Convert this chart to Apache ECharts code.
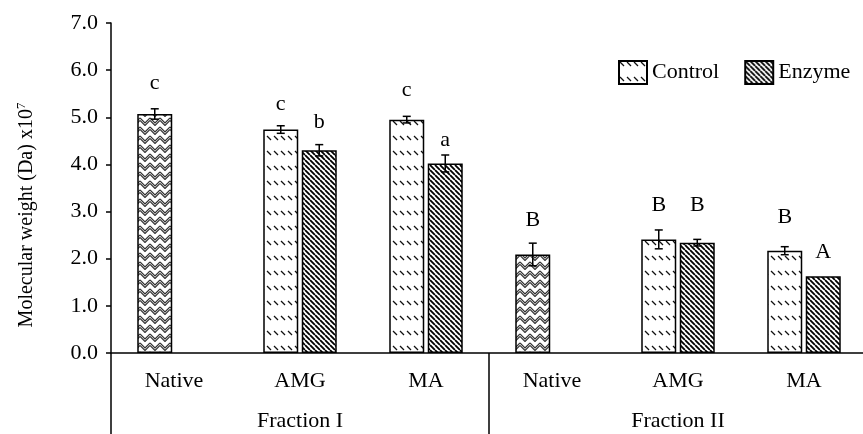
<!DOCTYPE html>
<html>
<head>
<meta charset="utf-8">
<script src="https://cdn.jsdelivr.net/npm/echarts@6/dist/echarts.min.js"></script>
<style>
html,body{margin:0;padding:0;background:#fff;}
#chart{width:863px;height:434px;}
</style>
</head>
<body>
<div id="chart"></div>
<script>
// ---------- data ----------
const categories = ['Native', 'AMG', 'MA', 'Native', 'AMG', 'MA'];
const groups = ['Fraction I', 'Fraction II'];
const seriesNames = ['Control', 'Enzyme'];
const controlMW = [5.07, 4.74, 4.95, 2.09, 2.41, 2.17];
const controlErr = [0.11, 0.08, 0.07, 0.24, 0.20, 0.085];
const enzymeMW = [null, 4.30, 4.02, null, 2.34, 1.63];
const enzymeErr = [null, 0.12, 0.18, null, 0.07, 0];
const controlLetters = ['c', 'c', 'c', 'B', 'B', 'B'];
const enzymeLetters = [null, 'b', 'a', null, 'B', 'A'];
const controlLetterAt = [5.73, 5.28, 5.58, 2.82, 3.14, 2.89];
const enzymeLetterAt = [null, 4.90, 4.51, null, 3.14, 2.13];
const yMin = 0, yMax = 7, yStep = 1;

// ---------- styles ----------
const FONT = '"Liberation Serif", "Times New Roman", serif';
const BAR_W = 35;
const BAR_GAP = 0.1;

function tile(w, h, draw) {
  const c = document.createElement('canvas');
  c.width = w; c.height = h;
  const ctx = c.getContext('2d');
  ctx.fillStyle = '#fff';
  ctx.fillRect(0, 0, w, h);
  draw(ctx, w, h);
  return { image: c, repeat: 'repeat' };
}
const controlPattern = tile(7, 15, (ctx) => {
  ctx.strokeStyle = '#111'; ctx.lineWidth = 1.3;
  ctx.beginPath(); ctx.moveTo(1, 1); ctx.lineTo(5, 5); ctx.stroke();
});
const enzymePattern = tile(5, 5, (ctx, w, h) => {
  ctx.strokeStyle = '#000'; ctx.lineWidth = 1.8;
  ctx.beginPath();
  for (const x0 of [-w, 0, w]) { ctx.moveTo(x0, 0); ctx.lineTo(x0 + w, h); }
  ctx.stroke();
});
const nativePattern = tile(10, 9, (ctx) => {
  ctx.strokeStyle = '#333'; ctx.lineWidth = 1.2;
  ctx.beginPath();
  ctx.moveTo(0, 1); ctx.lineTo(5, 6); ctx.lineTo(10, 1);
  ctx.moveTo(0, 3.5); ctx.lineTo(5, 8.5); ctx.lineTo(10, 3.5);
  ctx.stroke();
});

const chart = echarts.init(document.getElementById('chart'), null, { renderer: 'canvas' });

function barData(vals) {
  return vals.map((v, i) => {
    if (v == null) return '-';
    if (categories[i] === 'Native') return { value: v, itemStyle: { color: nativePattern } };
    return v;
  });
}

function errSeries(sIdx, vals, errs, letters, letterAt) {
  const sign = sIdx === 0 ? -1 : 1;
  const offset = sign * (BAR_W * (1 + BAR_GAP)) / 2;
  const data = [];
  vals.forEach((v, i) => { if (v != null) data.push([i, v, errs[i], letterAt[i]]); });
  return {
    type: 'custom',
    name: seriesNames[sIdx] + ' err',
    xAxisIndex: 0, yAxisIndex: 0,
    z: 5,
    silent: true,
    encode: { x: 0, y: 1 },
    data: data,
    renderItem: function (params, api) {
      const i = api.value(0), v = api.value(1), e = api.value(2), ly = api.value(3);
      const x = api.coord([i, v])[0] + offset;
      const children = [];
      const ls = { stroke: '#000', lineWidth: 1.5 };
      if (e > 0) {
        const yt = api.coord([i, v + e])[1];
        const yb = api.coord([i, v - e])[1];
        children.push({ type: 'line', shape: { x1: x, y1: yt, x2: x, y2: yb }, style: ls });
        children.push({ type: 'line', shape: { x1: x - 4, y1: yt, x2: x + 4, y2: yt }, style: ls });
        children.push({ type: 'line', shape: { x1: x - 4, y1: yb, x2: x + 4, y2: yb }, style: ls });
      }
      const yl = api.coord([i, ly])[1];
      children.push({
        type: 'text',
        style: { text: letters[i], x: x, y: yl, align: 'center', verticalAlign: 'middle',
                 font: '22px ' + FONT, fill: '#000' }
      });
      return { type: 'group', children: children };
    }
  };
}

const option = {
  backgroundColor: '#fff',
  animation: false,
  textStyle: { fontFamily: FONT, color: '#000' },
  grid: { left: 111, width: 756, top: 23, bottom: 81, containLabel: false, outerBoundsMode: 'none' },
  legend: {
    data: seriesNames,
    icon: 'rect',
    left: 618, top: 60,
    itemWidth: 28, itemHeight: 23, itemGap: 25, padding: 0,
    textStyle: { fontFamily: FONT, fontSize: 22, color: '#000' }
  },
  xAxis: [
    {
      type: 'category', data: categories, position: 'bottom',
      axisLine: { show: true, lineStyle: { color: '#000', width: 1.5 } },
      axisTick: { show: false },
      axisLabel: { fontFamily: FONT, fontSize: 22, color: '#000', margin: 17, interval: 0 }
    },
    {
      type: 'category', data: groups, position: 'bottom',
      axisLine: { show: false },
      axisTick: { show: true, length: 81, interval: 0, lineStyle: { color: '#000', width: 1.5 } },
      axisLabel: { fontFamily: FONT, fontSize: 22, color: '#000', margin: 57, interval: 0 },
      splitLine: { show: false }
    }
  ],
  yAxis: {
    type: 'value', min: yMin, max: yMax, interval: yStep,
    name: '{a|Molecular weight (Da) x10}{s|7}',
    nameLocation: 'middle', nameGap: 72, nameRotate: 90,
    nameTextStyle: {
      padding: [0, 54, 0, 0],
      rich: {
        a: { fontFamily: FONT, fontSize: 20, color: '#000', lineHeight: 24 },
        s: { fontFamily: FONT, fontSize: 13, color: '#000', verticalAlign: 'top', lineHeight: 24, padding: [0, 0, 10, 0] }
      }
    },
    axisLine: { show: true, lineStyle: { color: '#000', width: 1.5 } },
    axisTick: { show: true, length: 5, inside: false, lineStyle: { color: '#000', width: 1.5 } },
    axisLabel: { fontFamily: FONT, fontSize: 22, color: '#000', margin: 13,
                 formatter: (v) => v.toFixed(1) },
    splitLine: { show: false }
  },
  series: [
    {
      type: 'bar', name: seriesNames[0], xAxisIndex: 0, yAxisIndex: 0,
      barWidth: BAR_W, barGap: (BAR_GAP * 100) + '%',
      itemStyle: { color: controlPattern, borderColor: '#000', borderWidth: 1.5 },
      data: barData(controlMW)
    },
    {
      type: 'bar', name: seriesNames[1], xAxisIndex: 0, yAxisIndex: 0,
      barWidth: BAR_W, barGap: (BAR_GAP * 100) + '%',
      itemStyle: { color: enzymePattern, borderColor: '#000', borderWidth: 1.5 },
      data: barData(enzymeMW)
    },
    errSeries(0, controlMW, controlErr, controlLetters, controlLetterAt),
    errSeries(1, enzymeMW, enzymeErr, enzymeLetters, enzymeLetterAt)
  ]
};
chart.setOption(option);
</script>
</body>
</html>
